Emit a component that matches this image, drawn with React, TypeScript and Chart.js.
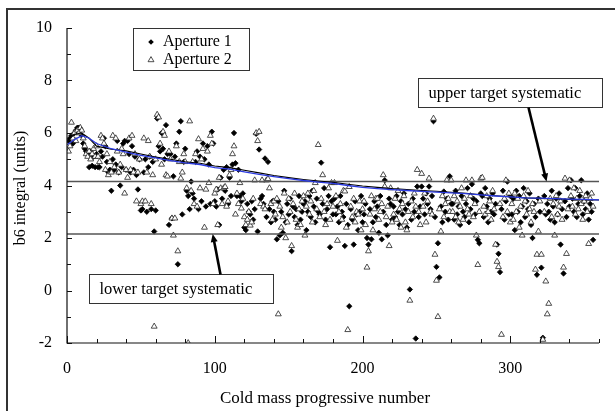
import React, { useEffect, useRef } from 'react';
import { Chart, registerables } from 'chart.js';

Chart.register(...registerables);

// b6 integral (units) per cold mass, aperture 1 (cold mass 1..356)
const aperture1: number[] = [
  5.7, 5.8, 5.9, 5.6, 6.0, 6.1, 6.2, 6.2, 6.1, 5.9, 5.6, 5.4, 5.3, 5.2, 4.7, 5.3, 4.75, 5.1, 4.7, 5.2,
  4.7, 4.7, 5.3, 5.1, 5.8, 5.5, 4.9, 4.5, 4.6, 3.8, 5.0, 4.6, 4.8, 5.7, 4.5, 4.0, 4.7, 5.6, 5.7, 4.6,
  5.7, 5.2, 4.5, 5.5, 4.6, 5.1, 4.4, 3.85, 5.0, 3.05, 3.1, 4.5, 5.0, 3.0, 4.7, 5.1, 3.1, 4.9, 2.25, 3.05,
  6.55, 5.5, 5.3, 6.0, 5.4, 5.0, 6.3, 5.2, 2.5, 5.2, 2.75, 4.35, 5.1, 5.6, 1.0, 6.05, 6.45, 2.9, 4.9, 5.4,
  3.8, 3.6, 3.1, 4.15, 3.7, 3.5, 4.9, 5.3, 3.1, 5.1, 3.4, 5.6, 5.0, 3.2, 5.5, 4.8, 3.3, 6.05, 5.6, 3.4,
  3.2, 3.85, 2.5, 4.3, 3.5, 4.6, 3.8, 4.7, 3.3, 4.3, 3.6, 4.8, 6.0, 4.85, 3.6, 4.6, 3.6, 3.4, 3.7, 2.4,
  2.3, 3.3, 3.0, 2.9, 3.4, 2.7, 3.1, 5.97, 2.25, 5.37, 3.5, 3.6, 3.3, 5.03, 2.8, 4.9, 3.1, 2.6, 3.4, 3.0,
  2.7, 1.95, 3.4, 2.1, 3.0, 2.2, 3.8, 2.6, 3.3, 2.9, 3.5, 1.5, 3.2, 2.8, 3.1, 2.5, 3.6, 2.7, 3.0, 3.3,
  3.4, 2.3, 3.0, 3.6, 2.8, 3.8, 3.2, 2.6, 3.5, 3.0, 2.9, 4.87, 3.3, 3.9, 2.7, 3.1, 3.6, 1.65, 3.4, 2.9,
  3.5, 2.9, 3.2, 2.6, 3.6, 3.0, 2.8, 1.7, 3.3, 2.5, -0.6, 3.1, 2.7, 1.75, 3.4, 2.9, 2.3, 3.0, 3.6, 2.6,
  2.9, 3.3, 2.0, 1.75, 3.1, 1.95, 2.6, 3.4, 2.8, 3.2, 2.2, 3.6, 1.95, 3.0, 4.2, 2.5, 2.1, 3.5, 3.3, 2.7,
  3.2, 2.8, 3.6, 3.0, 2.5, 3.4, 2.9, 3.7, 3.1, 2.4, 3.3, 0.04, 2.7, 3.5, 3.0, -1.83, 3.96, 2.8, 3.2, 3.96,
  3.5, 2.9, 3.7, 3.3, 3.96, 3.1, 3.6, 6.45, 2.8, 0.9, 1.8, 0.5, 3.2, 2.6, 3.77, 3.0, 3.5, 2.7, 4.35, 3.3,
  3.3, 2.7, 3.8, 2.9, 3.2, 2.5, 3.6, 3.0, 2.8, 3.3, 3.9, 2.6, 3.1, 4.05, 3.5, 2.9, 3.4, 1.93, 1.8, 3.7,
  3.6, 2.8, 3.9, 3.2, 2.6, 3.5, 3.0, 3.7, 2.9, 3.3, 1.75, 1.4, 0.7, 3.1, 3.8, 2.7, 3.4, 4.15, 2.9, 3.6,
  2.9, 3.5, 2.3, 3.8, 3.0, 3.6, 2.6, 3.2, 3.9, 2.8, 3.4, 3.1, 3.7, 2.5, 2.0, 3.3, 2.8, 0.6, 3.5, 3.0,
  0.87, -1.8, 3.6, 2.9, 3.3, 3.0, 2.7, 3.8, 3.2, 2.6, 3.5, 2.9, 3.7, 1.75, 3.1, 0.65, 3.4, 2.8, 3.9, 3.2,
  4.2, 3.5, 3.0, 3.9, 2.8, 3.3, 3.6, 4.2, 2.9, 3.4, 3.1, 3.7, 2.7, 3.3, 3.0, 1.93,
];

// b6 integral (units) per cold mass, aperture 2 (cold mass 1..356)
const aperture2: number[] = [
  5.3, 5.5, 6.4, 5.8, 6.0, 5.7, 6.1, 6.0, 6.2, 6.1, 5.8, 5.5, 5.2, 5.1, 5.3, 5.0, 5.2, 5.4, 5.1, 5.5,
  5.1, 4.9, 5.9, 5.8, 5.6, 4.6, 5.2, 4.4, 4.9, 4.5, 5.9, 4.7, 5.8, 5.3, 4.5, 4.8, 5.4, 5.2, 3.7, 4.6,
  4.3, 5.8, 4.6, 5.9, 4.5, 5.2, 3.4, 4.5, 5.0, 3.3, 3.4, 5.8, 3.4, 4.5, 5.7, 5.1, 3.3, 4.4, -1.37, 5.0,
  6.7, 6.6, 5.6, 4.8, 6.05, 5.9, 4.4, 4.35, 5.3, 5.0, 2.75, 2.1, 2.75, 5.5, 1.5, 4.9, 4.27, 4.5, 5.2, 4.9,
  3.9, -2.0, 6.45, 3.8, 4.9, 3.3, 5.2, 3.2, 5.77, 3.9, 5.0, 5.4, 2.4, 3.85, 5.3, 4.1, 5.9, 5.6, 3.3, 3.7,
  3.85, 2.5, 4.3, 3.9, 3.3, 3.9, 3.95, 3.2, 3.4, 4.4, 4.6, 5.2, 5.5, 2.9, 3.7, 3.3, 4.1, 3.13, 3.5, 2.8,
  2.5, 2.7, 3.0, 2.48, 2.6, 3.5, 4.2, 6.0, 5.7, 6.05, 3.3, 4.2, 3.2, 3.1, 4.2, 4.25, 3.9, 3.3, 2.7, 3.4,
  2.9, 3.5, -0.9, 3.2, 2.4, 2.8, 3.7, 2.0, 2.6, 3.5, 3.0, 1.7, 3.3, 3.7, 2.7, 2.4, 3.1, 2.5, 3.4, 3.6,
  2.1, 3.2, 3.7, 2.9, 3.4, 2.6, 3.8, 4.1, 3.1, 5.55, 2.8, 3.5, 4.4, 3.0, 2.5, 3.3, 3.9, 2.7, 4.1, 3.2,
  4.1, 3.6, 1.9, 3.0, 3.3, 2.7, 3.8, 3.78, 2.4, -1.5, 3.95, 3.2, 2.8, 3.5, 2.6, 3.0, 2.9, 3.4, 2.3, 3.1,
  3.4, 2.5, 0.88, 1.5, 2.9, 3.6, 2.3, 3.1, 3.5, 3.5, 2.7, 3.0, 3.3, 4.4, 3.96, 2.8, 3.2, 1.7, 3.9, 2.6,
  2.9, 3.5, 2.7, 3.8, 3.1, 2.4, 3.3, 3.6, 2.6, 2.3, 3.0, -0.38, 3.4, 2.8, 3.7, 3.2, 4.6, 3.0, 2.5, 4.45,
  3.2, 3.7, 2.6, 3.4, 4.27, 3.0, 2.9, 6.55, 1.37, 0.38, -1.0, 3.1, 2.25, 3.6, 2.8, 3.3, 4.2, 3.5, 3.0, 4.2,
  3.0, 3.6, 2.8, 3.4, 2.6, 3.2, 3.9, 2.7, 3.5, 4.2, 3.1, 2.9, 3.6, 4.2, 2.8, 3.3, 2.1, 0.98, 3.0, 4.27,
  4.3, 3.2, 2.9, 3.6, 3.0, 3.4, 2.7, 3.8, 3.1, 1.75, 1.1, 0.9, 3.3, -1.68, 2.8, 3.5, 4.2, 3.0, 3.7, 2.6,
  3.3, 2.7, 3.7, 3.0, 3.5, 2.4, 3.2, 2.1, 3.6, 3.4, 2.9, 3.8, 3.1, 2.6, 3.3, 3.0, 0.8, 1.37, 2.25, 3.4,
  1.37, -1.87, 3.0, 0.35, -0.9, -0.5, 3.5, 2.8, 3.3, 2.1, 3.6, 2.9, 3.2, 3.4, 2.7, 0.88, 4.27, 1.4, 3.1, 4.2,
  3.6, 3.2, 3.9, 2.9, 3.5, 3.1, 3.8, 3.3, 2.7, 3.4, 3.6, 3.0, 1.78, 3.5, 3.7, 3.2,
];

// running averages
const avgX: number[] = [0, 5, 10, 15, 20, 30, 40, 50, 60, 70, 80, 90, 100, 110, 120, 130, 140, 150, 160, 170, 180,
  190, 200, 210, 220, 230, 240, 250, 260, 270, 280, 290, 300, 310, 320, 330, 340, 350, 360];
const avgBlue: number[] = [5.55, 5.75, 5.9, 5.8, 5.6, 5.4, 5.27, 5.15, 5.05, 4.95, 4.86, 4.8, 4.68, 4.62, 4.52,
  4.42, 4.34, 4.26, 4.19, 4.13, 4.08, 4.0, 3.93, 3.88, 3.84, 3.81, 3.78, 3.75, 3.72, 3.69, 3.64, 3.6, 3.57,
  3.53, 3.52, 3.5, 3.48, 3.47, 3.45];
const avgBlack: number[] = [5.7, 5.95, 6.0, 5.8, 5.5, 5.38, 5.32, 5.2, 5.08, 5.0, 4.9, 4.85, 4.74, 4.68, 4.58,
  4.48, 4.38, 4.3, 4.23, 4.17, 4.12, 4.05, 3.98, 3.93, 3.88, 3.85, 3.81, 3.78, 3.74, 3.7, 3.65, 3.61, 3.57,
  3.53, 3.51, 3.49, 3.47, 3.46, 3.45];

const targetX: number[] = [0, 360];
const upperTarget: number[] = [4.15, 4.15];
const lowerTarget: number[] = [2.15, 2.15];

const seriesNames: string[] = ['Aperture 1', 'Aperture 2'];
const xMajorLabels: number[] = [0, 100, 200, 300];
const yMajorLabels: number[] = [-2, 0, 2, 4, 6, 8, 10];
const xTitle = 'Cold mass progressive number';
const yTitle = 'b6 integral (units)';
const upperNote = 'upper target systematic';
const lowerNote = 'lower target systematic';

const FONT = "'Liberation Serif', 'Times New Roman', serif";

const callouts = [
  { text: upperNote, boxX: 237.7, boxY: 8.08, w: 184, h: 29, tailDx: 110, fromBottom: true, tipX: 324.5, tipY: 4.15 },
  { text: lowerNote, boxX: 14.9, boxY: 0.61, w: 184, h: 29, tailDx: 131, fromBottom: false, tipX: 98.6, tipY: 2.15 },
];

function drawDiamond(ctx: CanvasRenderingContext2D, x: number, y: number, r: number) {
  ctx.beginPath();
  ctx.moveTo(x - r, y);
  ctx.lineTo(x, y - r);
  ctx.lineTo(x + r, y);
  ctx.lineTo(x, y + r);
  ctx.closePath();
  ctx.fillStyle = '#000';
  ctx.fill();
}

function drawTriangle(ctx: CanvasRenderingContext2D, x: number, y: number, r: number) {
  ctx.beginPath();
  ctx.moveTo(x, y - r);
  ctx.lineTo(x + r * 0.866, y + r * 0.5);
  ctx.lineTo(x - r * 0.866, y + r * 0.5);
  ctx.closePath();
  ctx.fillStyle = '#fff';
  ctx.fill();
  ctx.strokeStyle = '#222';
  ctx.lineWidth = 0.8;
  ctx.stroke();
}

const decorPlugin = {
  id: 'decor',
  afterDatasetsDraw(chart: any) {
    const { ctx, chartArea: a, scales } = chart;
    const xs = scales.x;
    const ys = scales.y;
    ctx.save();

    // outer frame (top and left edges visible)
    ctx.strokeStyle = '#333';
    ctx.lineWidth = 2;
    ctx.beginPath();
    ctx.moveTo(7, 411);
    ctx.lineTo(7, 9);
    ctx.lineTo(615, 9);
    ctx.stroke();

    // axes
    ctx.strokeStyle = '#111';
    ctx.lineWidth = 1.2;
    ctx.beginPath();
    ctx.moveTo(a.left, a.top);
    ctx.lineTo(a.left, a.bottom);
    ctx.lineTo(a.right, a.bottom);
    ctx.stroke();

    // tick marks (inside)
    ctx.lineWidth = 1;
    ctx.beginPath();
    ys.ticks.forEach((t: any) => {
      const y = Math.round(ys.getPixelForValue(t.value)) + 0.5;
      const len = yMajorLabels.includes(t.value) ? 5 : 4;
      ctx.moveTo(a.left, y);
      ctx.lineTo(a.left + len, y);
    });
    xs.ticks.forEach((t: any) => {
      const x = Math.round(xs.getPixelForValue(t.value)) + 0.5;
      const len = xMajorLabels.includes(t.value) ? 7 : 4;
      ctx.moveTo(x, a.bottom);
      ctx.lineTo(x, a.bottom - len);
    });
    ctx.stroke();

    // axis titles
    ctx.fillStyle = '#000';
    ctx.font = `17px ${FONT}`;
    ctx.textAlign = 'center';
    ctx.textBaseline = 'alphabetic';
    ctx.fillText(xTitle, 325, 403);
    ctx.font = `16px ${FONT}`;
    ctx.save();
    ctx.translate(25, 188);
    ctx.rotate(-Math.PI / 2);
    ctx.fillText(yTitle, 0, 0);
    ctx.restore();

    // legend
    ctx.strokeStyle = '#333';
    ctx.lineWidth = 1;
    ctx.fillStyle = '#fff';
    ctx.fillRect(133.5, 28.5, 116, 42);
    ctx.strokeRect(133.5, 28.5, 116, 42);
    drawDiamond(ctx, 151, 42, 2.8);
    drawTriangle(ctx, 151, 60, 3.4);
    ctx.fillStyle = '#000';
    ctx.font = `16px ${FONT}`;
    ctx.textAlign = 'left';
    ctx.textBaseline = 'middle';
    ctx.fillText(seriesNames[0], 163, 42);
    ctx.fillText(seriesNames[1], 163, 60);

    // call-outs with arrows
    callouts.forEach((c) => {
      const bx = Math.round(xs.getPixelForValue(c.boxX)) + 0.5;
      const by = Math.round(ys.getPixelForValue(c.boxY)) + 0.5;
      ctx.fillStyle = '#fff';
      ctx.fillRect(bx, by, c.w, c.h);
      ctx.strokeStyle = '#333';
      ctx.lineWidth = 1;
      ctx.strokeRect(bx, by, c.w, c.h);
      ctx.fillStyle = '#000';
      ctx.font = `16.5px ${FONT}`;
      ctx.textAlign = 'left';
      ctx.textBaseline = 'middle';
      ctx.fillText(c.text, bx + 10, by + c.h / 2 + 1);

      const sx = bx + c.tailDx;
      const sy = c.fromBottom ? by + c.h : by;
      const tx = xs.getPixelForValue(c.tipX);
      const ty = ys.getPixelForValue(c.tipY);
      const ang = Math.atan2(ty - sy, tx - sx);
      const headLen = 8;
      const ex = tx - Math.cos(ang) * headLen * 0.8;
      const ey = ty - Math.sin(ang) * headLen * 0.8;
      ctx.strokeStyle = '#000';
      ctx.lineWidth = 2.6;
      ctx.beginPath();
      ctx.moveTo(sx, sy);
      ctx.lineTo(ex, ey);
      ctx.stroke();
      ctx.fillStyle = '#000';
      ctx.beginPath();
      ctx.moveTo(tx, ty);
      ctx.lineTo(tx - Math.cos(ang) * headLen + Math.sin(ang) * 3.5, ty - Math.sin(ang) * headLen - Math.cos(ang) * 3.5);
      ctx.lineTo(tx - Math.cos(ang) * headLen - Math.sin(ang) * 3.5, ty - Math.sin(ang) * headLen + Math.cos(ang) * 3.5);
      ctx.closePath();
      ctx.fill();
    });

    ctx.restore();
  },
};

export default function App() {
  const canvasRef = useRef<HTMLCanvasElement | null>(null);

  useEffect(() => {
    const canvas = canvasRef.current;
    if (!canvas) return;
    const pts = (vals: number[]) => vals.map((v, i) => ({ x: i + 1, y: v }));
    const line = (xsArr: number[], ysArr: number[]) => xsArr.map((x, i) => ({ x, y: ysArr[i] }));

    const chart = new Chart(canvas, {
      type: 'scatter',
      data: {
        datasets: [
          {
            label: 'avg blue',
            data: line(avgX, avgBlue),
            showLine: true,
            borderColor: '#2b3ae0',
            borderWidth: 1.3,
            pointRadius: 0,
          },
          {
            label: 'avg black',
            data: line(avgX, avgBlack),
            showLine: true,
            borderColor: '#000',
            borderWidth: 1.1,
            pointRadius: 0,
          },
          {
            label: 'upper target',
            data: line(targetX, upperTarget),
            showLine: true,
            borderColor: '#555',
            borderWidth: 1.5,
            pointRadius: 0,
          },
          {
            label: 'lower target',
            data: line(targetX, lowerTarget),
            showLine: true,
            borderColor: '#555',
            borderWidth: 1.5,
            pointRadius: 0,
          },
          {
            label: seriesNames[1],
            data: pts(aperture2),
            pointStyle: 'triangle',
            pointRadius: 3.4,
            backgroundColor: '#fff',
            borderColor: '#222',
            borderWidth: 0.8,
          },
          {
            label: seriesNames[0],
            data: pts(aperture1),
            pointStyle: 'rectRot',
            pointRadius: 2.7,
            backgroundColor: '#000',
            borderColor: '#000',
            borderWidth: 0.8,
          },
        ],
      },
      options: {
        animation: false,
        responsive: false,
        devicePixelRatio: 1,
        layout: { padding: { top: 28, right: 15, left: 0, bottom: 0 } },
        plugins: { legend: { display: false }, tooltip: { enabled: false } },
        scales: {
          x: {
            type: 'linear',
            min: 0,
            max: 360,
            afterFit: (s: any) => { s.height = 68; },
            grid: { display: false, drawTicks: false },
            border: { display: false },
            ticks: {
              stepSize: 20,
              autoSkip: false,
              maxRotation: 0,
              padding: 16,
              color: '#000',
              font: { family: FONT, size: 16 },
              callback: (v: any) => (xMajorLabels.includes(Number(v)) ? String(v) : ''),
            },
          },
          y: {
            type: 'linear',
            min: -2,
            max: 10,
            afterFit: (s: any) => { s.width = 67; },
            grid: { display: false, drawTicks: false },
            border: { display: false },
            ticks: {
              stepSize: 1,
              autoSkip: false,
              padding: 15,
              color: '#000',
              font: { family: FONT, size: 16 },
              callback: (v: any) => (yMajorLabels.includes(Number(v)) ? String(v) : ''),
            },
          },
        },
      },
      plugins: [decorPlugin],
    });
    return () => chart.destroy();
  }, []);

  return (
    <div style={{ position: 'absolute', left: 0, top: 0, width: 615, height: 411, background: '#fff' }}>
      <canvas ref={canvasRef} width={615} height={411} style={{ display: 'block' }} />
    </div>
  );
}
